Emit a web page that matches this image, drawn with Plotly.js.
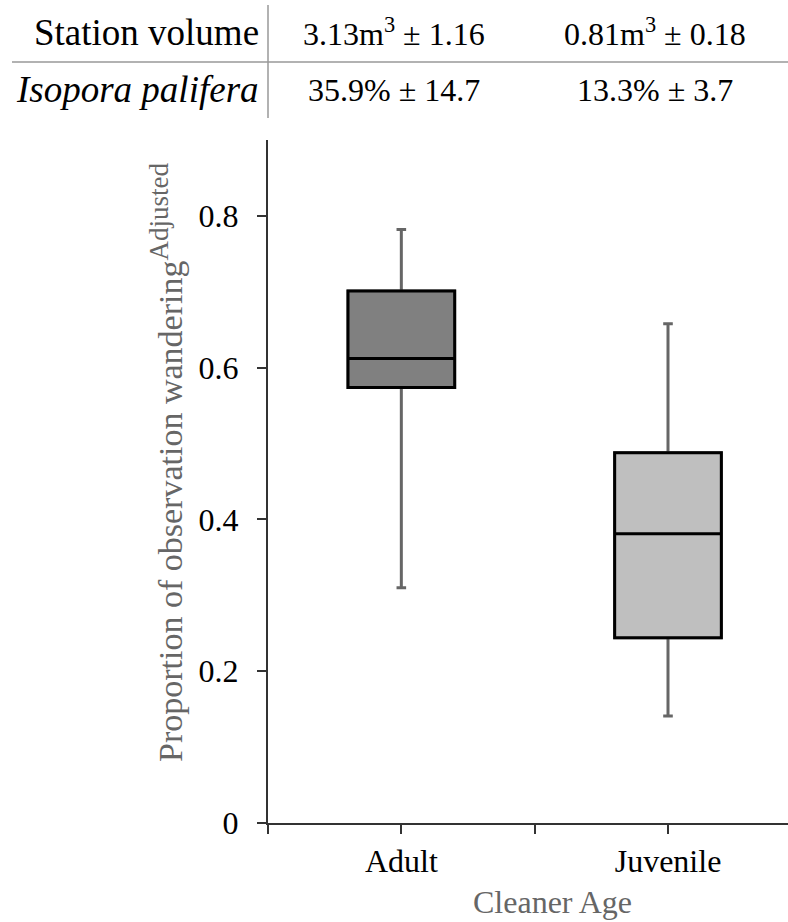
<!DOCTYPE html>
<html>
<head>
<meta charset="utf-8">
<script src="https://cdn.plot.ly/plotly-3.0.1.min.js"></script>
<style>
  html, body { margin: 0; padding: 0; background: #ffffff; }
  #chart { width: 788px; height: 922px; }
</style>
</head>
<body>
<div id="chart"></div>
<script>
// Box summary statistics per cleaner age class
const categories = ['Adult', 'Juvenile'];
const lowerWhisker = [0.310, 0.141];
const q1 = [0.574, 0.244];
const median = [0.612, 0.381];
const q3 = [0.701, 0.488];
const upperWhisker = [0.782, 0.658];
const boxFills = ['#808080', '#bfbfbf'];

// Y axis ticks
const yTickVals = [0, 0.2, 0.4, 0.6, 0.8];
const yTickText = ['0', '0.2', '0.4', '0.6', '0.8'];

// Station summary table above the plot
const rowLabels = ['Station volume', '<i>Isopora palifera</i>'];
const adultStats = ['3.13m<sup>3</sup> ± 1.16', '35.9% ± 14.7'];
const juvenileStats = ['0.81m<sup>3</sup> ± 0.18', '13.3% ± 3.7'];

const SERIF = '"Liberation Serif", "Times New Roman", Times, serif';
const W = 788, H = 922;
const M = { l: 268, r: 0, t: 140, b: 99 };
const plotW = W - M.l - M.r, plotH = H - M.t - M.b;
// pixel -> paper helpers for text placed in the margins
const px = X => (X - M.l) / plotW;
const py = Y => (H - M.b - Y) / plotH;

const traces = [];
categories.forEach((cat, i) => {
  const base = {
    type: 'box',
    x: [i],
    q1: [q1[i]],
    median: [median[i]],
    q3: [q3[i]],
    width: 0.4,
    fillcolor: boxFills[i],
    boxpoints: false,
    hoverinfo: 'skip',
    showlegend: false,
    name: cat
  };
  // whiskers (grey)
  traces.push(Object.assign({}, base, {
    lowerfence: [lowerWhisker[i]],
    upperfence: [upperWhisker[i]],
    whiskerwidth: 0.09,
    line: { color: '#666666', width: 3 }
  }));
  // box outline and median (black)
  traces.push(Object.assign({}, base, {
    lowerfence: [q1[i]],
    upperfence: [q3[i]],
    whiskerwidth: 0,
    line: { color: '#000000', width: 3 }
  }));
});

// labelled ticks at the categories, plain tick marks between them
const xTickVals = categories.map((c, i) => i);
const xMinorVals = [-0.5].concat(categories.map((c, i) => i + 0.5));

const annotations = [];
const rowY = [32, 90];
rowLabels.forEach((lab, r) => {
  annotations.push({
    xref: 'paper', yref: 'paper', x: px(261), y: py(rowY[r]),
    xanchor: 'right', yanchor: 'middle', showarrow: false,
    text: lab, font: { family: SERIF, size: 37, color: '#000000' }
  });
  annotations.push({
    xref: 'paper', yref: 'paper', x: px(394), y: py(rowY[r]),
    xanchor: 'center', yanchor: 'middle', showarrow: false,
    text: adultStats[r], font: { family: SERIF, size: 32, color: '#000000' }
  });
  annotations.push({
    xref: 'paper', yref: 'paper', x: px(655), y: py(rowY[r]),
    xanchor: 'center', yanchor: 'middle', showarrow: false,
    text: juvenileStats[r], font: { family: SERIF, size: 32, color: '#000000' }
  });
});
// axis titles
annotations.push({
  xref: 'paper', yref: 'paper', x: px(552), y: py(922),
  xanchor: 'center', yanchor: 'bottom', showarrow: false,
  text: 'Cleaner Age', font: { family: SERIF, size: 32, color: '#666666' }
});
annotations.push({
  xref: 'paper', yref: 'paper', x: px(166), y: py(463),
  xanchor: 'center', yanchor: 'middle', showarrow: false, textangle: -90,
  text: 'Proportion of observation wandering<sup><span style="font-size:27px">Adjusted</span></sup>',
  font: { family: SERIF, size: 34, color: '#666666' }
});

const shapes = [
  { type: 'line', xref: 'paper', yref: 'paper',
    x0: px(12), x1: px(788), y0: py(62), y1: py(62),
    line: { color: '#999999', width: 1.5 } },
  { type: 'line', xref: 'paper', yref: 'paper',
    x0: px(268), x1: px(268), y0: py(5), y1: py(118),
    line: { color: '#999999', width: 1.5 } }
];

const axisCommon = {
  showline: true, linecolor: '#333333', linewidth: 2,
  ticks: 'outside', ticklen: 9, tickwidth: 2, tickcolor: '#333333',
  showgrid: false, zeroline: false, fixedrange: true,
  tickfont: { family: SERIF, size: 32, color: '#000000' }
};

const layout = {
  width: W, height: H,
  margin: { l: M.l, r: M.r, t: M.t, b: M.b, pad: 0 },
  paper_bgcolor: '#ffffff', plot_bgcolor: '#ffffff',
  boxmode: 'overlay',
  showlegend: false,
  font: { family: SERIF },
  xaxis: Object.assign({}, axisCommon, {
    range: [-0.5, 1.45],
    tickmode: 'array', tickvals: xTickVals, ticktext: categories,
    minor: {
      tickmode: 'array', tickvals: xMinorVals,
      ticks: 'outside', ticklen: 9, tickwidth: 2, tickcolor: '#333333',
      showgrid: false
    }
  }),
  yaxis: Object.assign({}, axisCommon, {
    range: [0, 0.9],
    tickmode: 'array', tickvals: yTickVals, ticktext: yTickText,
    ticklabelstandoff: 12
  }),
  annotations: annotations,
  shapes: shapes
};

Plotly.newPlot('chart', traces, layout, { displayModeBar: false, staticPlot: true });
</script>
</body>
</html>
